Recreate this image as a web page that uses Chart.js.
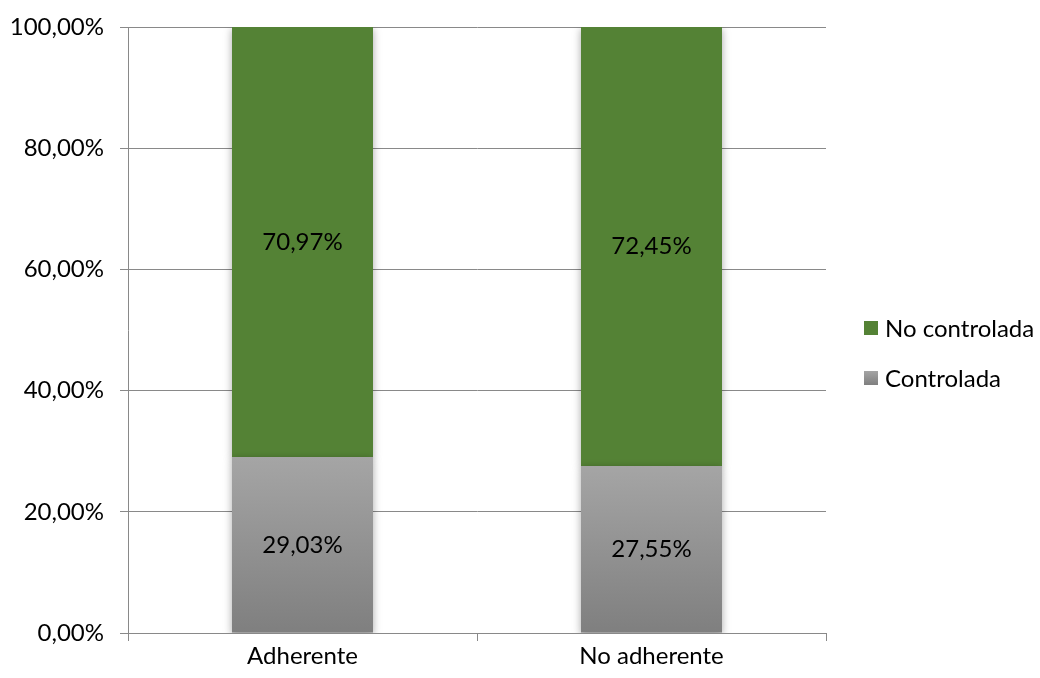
<!DOCTYPE html>
<html>
<head>
<meta charset="utf-8">
<script src="https://cdn.jsdelivr.net/npm/chart.js@4"></script>
<style>
  html, body { margin: 0; padding: 0; background: #fff; }
  #wrap { width: 1040px; height: 678px; }
</style>
</head>
<body>
<div id="wrap"><canvas id="myChart"></canvas></div>
<script>
const categories = ['Adherente', 'No adherente'];
const controlada = [29.03, 27.55];
const noControlada = [70.97, 72.45];
const seriesNames = ['Controlada', 'No controlada'];

const FONT = 'Lato';
const FONT_SIZE = 24;
const GRID = '#898989';
const GREEN = '#548235';

function pct(v) {
    return v.toFixed(2).replace('.', ',') + '%';
}

function greyGradient(c, top, bottom) {
    const g = c.createLinearGradient(0, top, 0, bottom);
    g.addColorStop(0, '#a5a5a5');
    g.addColorStop(1, '#7f7f7f');
    return g;
}

// soft drop shadow behind the bars
const barShadow = {
    id: 'barShadow',
    beforeDatasetsDraw(chart) {
        const c = chart.ctx;
        c.save();
        c.shadowColor = 'rgba(0,0,0,0.35)';
        c.shadowBlur = 8;
        c.shadowOffsetX = 0;
        c.shadowOffsetY = 2;
    },
    afterDatasetsDraw(chart) {
        chart.ctx.restore();
    }
};

// value written in the middle of every segment
const segmentLabels = {
    id: 'segmentLabels',
    afterDatasetsDraw(chart) {
        const c = chart.ctx;
        c.save();
        c.font = FONT_SIZE + 'px ' + FONT;
        c.fillStyle = '#000';
        c.textAlign = 'center';
        c.textBaseline = 'middle';
        chart.data.datasets.forEach((ds, i) => {
            chart.getDatasetMeta(i).data.forEach((bar, j) => {
                c.fillText(pct(ds.data[j]), bar.x, (bar.y + bar.base) / 2);
            });
        });
        c.restore();
    }
};

// legend on the right, top entry first
const sideLegend = {
    id: 'sideLegend',
    afterDraw(chart) {
        const c = chart.ctx;
        const items = chart.data.datasets.slice().reverse();
        c.save();
        c.font = FONT_SIZE + 'px ' + FONT;
        c.textBaseline = 'middle';
        items.forEach((ds, k) => {
            const cy = 328 + k * 50;
            const bx = 864, size = 14;
            if (ds.label === 'Controlada') {
                c.fillStyle = greyGradient(c, cy - size / 2, cy + size / 2);
            } else {
                c.fillStyle = GREEN;
            }
            c.fillRect(bx, cy - size / 2, size, size);
            c.fillStyle = '#000';
            c.fillText(ds.label, 885, cy + 1);
        });
        c.restore();
    }
};

const data = {
    labels: categories,
    datasets: [
        {
            label: seriesNames[0],
            data: controlada,
            backgroundColor: function(ctx) {
                const chart = ctx.chart;
                if (!chart.chartArea) return '#939393';
                const y = chart.scales.y;
                return greyGradient(chart.ctx,
                    y.getPixelForValue(controlada[ctx.dataIndex]),
                    y.getPixelForValue(0));
            },
            categoryPercentage: 1,
            barPercentage: 0.404
        },
        {
            label: seriesNames[1],
            data: noControlada,
            backgroundColor: GREEN,
            categoryPercentage: 1,
            barPercentage: 0.404
        }
    ]
};

const config = {
    type: 'bar',
    data: data,
    options: {
        responsive: true,
        maintainAspectRatio: false,
        animation: false,
        layout: {
            padding: { top: 0, right: 214, bottom: 0, left: 0 }
        },
        plugins: {
            legend: { display: false },
            tooltip: { enabled: false }
        },
        scales: {
            x: {
                stacked: true,
                afterFit: s => { s.height = 45; },
                grid: {
                    offset: true,
                    drawOnChartArea: false,
                    drawTicks: true,
                    tickLength: 8,
                    color: GRID
                },
                border: { display: false },
                ticks: {
                    color: '#000',
                    padding: 1,
                    font: { family: FONT, size: FONT_SIZE }
                }
            },
            y: {
                stacked: true,
                min: 0,
                max: 100,
                afterFit: s => {
                    s.width = 128;
                    s.paddingTop = 27;
                    s.paddingBottom = 0;
                },
                grid: {
                    color: GRID,
                    tickLength: 8
                },
                border: { display: true, color: GRID },
                ticks: {
                    stepSize: 20,
                    color: '#000',
                    padding: 16,
                    font: { family: FONT, size: FONT_SIZE },
                    callback: v => pct(v)
                }
            }
        }
    },
    plugins: [barShadow, segmentLabels, sideLegend]
};

document.addEventListener('DOMContentLoaded', function() {
    new Chart(document.getElementById('myChart'), config);
});
</script>
</body>
</html>
